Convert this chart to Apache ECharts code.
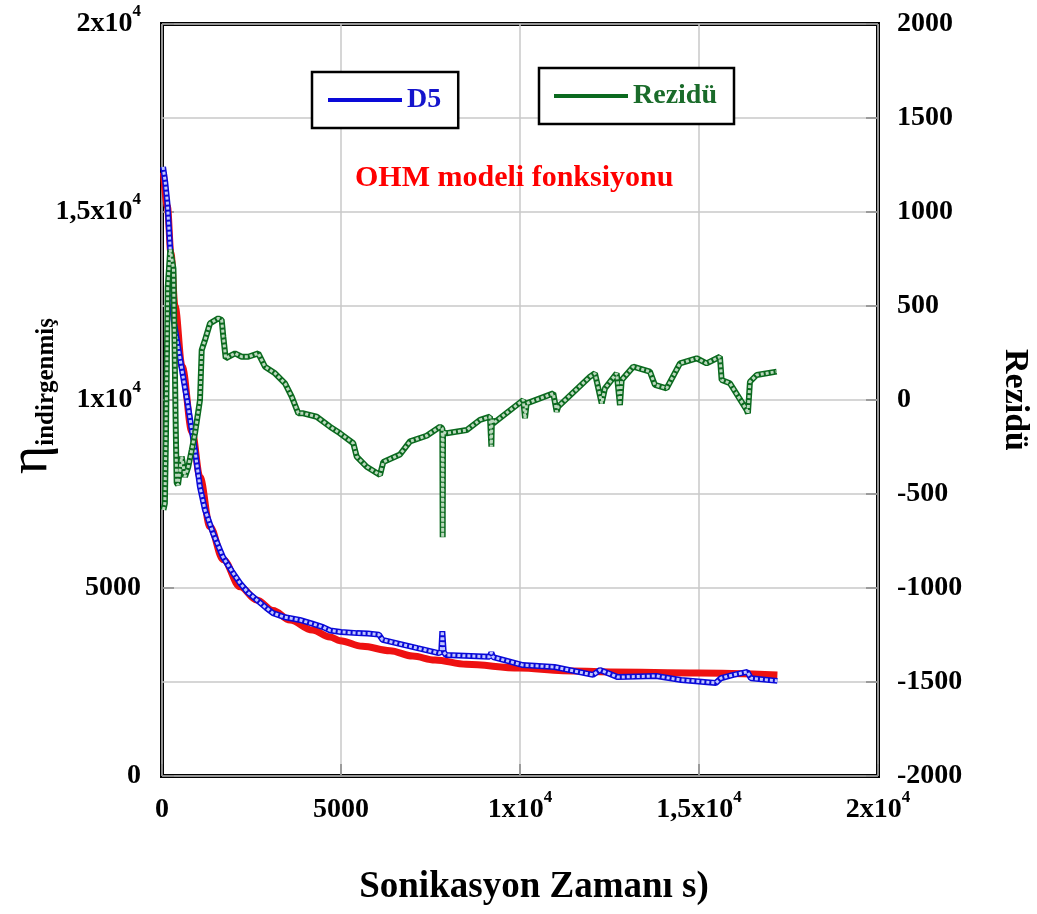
<!DOCTYPE html>
<html>
<head>
<meta charset="utf-8">
<script src="https://cdn.jsdelivr.net/npm/echarts@6/dist/echarts.min.js"></script>
<style>
  html, body { margin: 0; padding: 0; background: #fff; }
  #chart { width: 1037px; height: 914px; }
</style>
</head>
<body>
<div id="chart"></div>
<script>
// Sonication time (s) and reduced viscosity of sample D5
const d5Time = [30, 90, 150, 230, 280, 320, 450, 700, 920, 1060, 1200, 1425, 1700, 1950, 2180, 2400, 2650, 2900, 3100, 3400, 3850, 4200, 4500, 4700, 5000, 5450, 5750, 6060, 6160, 7140, 7730, 7800, 7830, 7870, 7925, 9150, 9200, 9250, 10080, 10965, 12040, 12235, 12730, 13800, 14500, 15470, 15610, 15960, 16350, 16450, 17190];
const d5Value = [16200, 15800, 15250, 14000, 12600, 12150, 11400, 10000, 8670, 7690, 7080, 6460, 5830, 5450, 5130, 4880, 4680, 4480, 4330, 4230, 4150, 4050, 3960, 3870, 3830, 3800, 3790, 3760, 3620, 3400, 3270, 3300, 3850, 3300, 3220, 3170, 3280, 3160, 2950, 2900, 2690, 2820, 2630, 2660, 2555, 2475, 2600, 2690, 2770, 2600, 2530];

// OHM model function fitted to D5
const ohmTime = [40, 150, 250, 363, 560, 840, 1061, 1340, 1713, 2180, 2644, 3100, 3575, 4200, 4690, 4970, 5600, 6368, 7000, 7625, 8500, 9985, 11200, 12530, 14980, 17190];
const ohmValue = [16050, 15150, 13900, 12500, 10900, 9150, 7950, 6630, 5750, 5035, 4682, 4400, 4150, 3880, 3697, 3600, 3450, 3333, 3190, 3086, 2970, 2873, 2800, 2766, 2740, 2687];

// Residuals of the fit (right axis)
const residTime = [40, 80, 110, 160, 230, 280, 320, 350, 380, 410, 447, 550, 642, 735, 830, 922, 1061, 1109, 1201, 1341, 1572, 1667, 1712, 1779, 2039, 2226, 2410, 2690, 2877, 3156, 3435, 3623, 3807, 3947, 4321, 4692, 4972, 5343, 5438, 5717, 6089, 6181, 6647, 6927, 7393, 7765, 7830, 7840, 7850, 7952, 8510, 8882, 9161, 9200, 9215, 9253, 10091, 10139, 10186, 10929, 11024, 11068, 11954, 12094, 12281, 12373, 12700, 12792, 12840, 13163, 13629, 13769, 14096, 14468, 14934, 15213, 15585, 15632, 15864, 16330, 16367, 16423, 16610, 17169];
const residValue = [-585, -550, -200, 600, 800, 790, 700, 300, -100, -441, -452, -301, -408, -355, -266, -177, 0, 266, 319, 408, 434, 426, 337, 222, 248, 230, 230, 248, 177, 142, 89, 18, -71, -71, -89, -142, -177, -230, -301, -355, -399, -330, -290, -220, -190, -142, -150, -730, -170, -177, -160, -106, -89, -248, -100, -124, 0, -97, -18, 35, -62, -35, 124, 142, -18, 62, 142, -27, 106, 177, 151, 80, 62, 195, 222, 195, 230, 106, 89, -53, -71, 97, 133, 151];

// Axis ticks and their labels ("^" marks an exponent)
const xTicks = [0, 5000, 10000, 15000, 20000];
const xTickLabels = ['0', '5000', '1x10^4', '1,5x10^4', '2x10^4'];
const leftTicks = [0, 5000, 10000, 15000, 20000];
const leftTickLabels = ['0', '5000', '1x10^4', '1,5x10^4', '2x10^4'];
const rightTicks = [-2000, -1500, -1000, -500, 0, 500, 1000, 1500, 2000];
const rightTickLabels = ['-2000', '-1500', '-1000', '-500', '0', '500', '1000', '1500', '2000'];

const zip = (a, b) => a.map((v, i) => [v, b[i]]);
const SERIF = '"Liberation Serif", "Times New Roman", serif';

function richLabel(ticks, labels) {
  return function (v) {
    const i = ticks.indexOf(v);
    if (i < 0) return '';
    const s = labels[i];
    const k = s.indexOf('^');
    if (k < 0) return '{m|' + s + '}';
    return '{m|' + s.slice(0, k) + '}{p|' + s.slice(k + 1) + '}';
  };
}
const labelRich = {
  m: { fontFamily: SERIF, fontWeight: 'bold', fontSize: 28, color: '#000', padding: [7, 0, 7, 0], verticalAlign: 'middle' },
  p: { fontFamily: SERIF, fontWeight: 'bold', fontSize: 17, color: '#000', verticalAlign: 'top' }
};

const BLUE = '#0a0ad8', RED = '#ee1111', GREEN = '#0b6a1f';
const LEGEND_LINE = 'path://M0,0 L74,0 L74,4 L0,4 Z';

const chart = echarts.init(document.getElementById('chart'), null, { renderer: 'canvas' });
chart.setOption({
  animation: false,
  backgroundColor: '#fff',
  grid: { left: 162, right: 159, top: 24, bottom: 138, show: true, borderColor: '#000', borderWidth: 4, backgroundColor: 'transparent' },
  legend: [
    {
      data: [{ name: 'D5', icon: LEGEND_LINE, textStyle: { color: '#1414cc' } }],
      left: 312, top: 72, orient: 'horizontal',
      itemWidth: 74, itemHeight: 4,
      padding: [14, 17, 14, 16],
      borderColor: '#000', borderWidth: 2.5, backgroundColor: '#fff',
      textStyle: { fontFamily: SERIF, fontWeight: 'bold', fontSize: 28 },
      selectedMode: false
    },
    {
      data: [{ name: 'Rezidü', icon: LEGEND_LINE, textStyle: { color: '#1a6b2a' } }],
      left: 539, top: 68, orient: 'horizontal',
      itemWidth: 74, itemHeight: 4,
      padding: [14, 17, 14, 15],
      borderColor: '#000', borderWidth: 2.5, backgroundColor: '#fff',
      textStyle: { fontFamily: SERIF, fontWeight: 'bold', fontSize: 28 },
      selectedMode: false
    }
  ],
  xAxis: {
    type: 'value', min: 0, max: 20000, interval: 5000,
    axisLine: { show: false },
    axisTick: { show: true, inside: true, length: 12, lineStyle: { color: '#888', width: 1.5 } },
    splitLine: { show: true, lineStyle: { color: '#c8c8c8', width: 1.5 } },
    axisLabel: { margin: 13, formatter: richLabel(xTicks, xTickLabels), rich: labelRich }
  },
  yAxis: [
    {
      type: 'value', min: 0, max: 20000, interval: 5000, position: 'left',
      axisLine: { show: false },
      axisTick: { show: true, inside: true, length: 12, lineStyle: { color: '#888', width: 1.5 } },
      splitLine: { show: false },
      axisLabel: { margin: 21, formatter: richLabel(leftTicks, leftTickLabels), rich: labelRich }
    },
    {
      type: 'value', min: -2000, max: 2000, interval: 500, position: 'right',
      axisLine: { show: false },
      axisTick: { show: true, inside: true, length: 12, lineStyle: { color: '#888', width: 1.5 } },
      splitLine: { show: true, lineStyle: { color: '#c8c8c8', width: 1.5 } },
      axisLabel: { margin: 19, formatter: richLabel(rightTicks, rightTickLabels), rich: labelRich }
    }
  ],
  series: [
    {
      name: 'OHM modeli fonksiyonu', type: 'line', yAxisIndex: 0,
      data: zip(ohmTime, ohmValue), smooth: 0.35, smoothMonotone: 'x',
      symbol: 'none', lineStyle: { color: RED, width: 7 }, itemStyle: { color: RED }, z: 2
    },
    {
      name: 'D5', type: 'line', yAxisIndex: 0,
      data: zip(d5Time, d5Value),
      symbol: 'none', lineStyle: { color: BLUE, width: 6 }, itemStyle: { color: BLUE }, z: 3
    },
    {
      name: 'D5 doku', type: 'line', yAxisIndex: 0, silent: true,
      data: zip(d5Time, d5Value),
      symbol: 'none', lineStyle: { color: '#c0c6ff', width: 3, type: [3, 2] }, z: 4
    },
    {
      name: 'Rezidü', type: 'line', yAxisIndex: 1,
      data: zip(residTime, residValue),
      symbol: 'none', lineStyle: { color: GREEN, width: 6 }, itemStyle: { color: GREEN }, z: 5
    },
    {
      name: 'Rezidü doku', type: 'line', yAxisIndex: 1, silent: true,
      data: zip(residTime, residValue),
      symbol: 'none', lineStyle: { color: '#bcd9be', width: 3, type: [3, 2] }, z: 6
    }
  ],
  graphic: [
    {
      type: 'text', x: 355, y: 178, z: 10,
      style: { text: 'OHM modeli fonksiyonu', fill: '#ff0000', font: 'bold 30px ' + SERIF, textAlign: 'left', textVerticalAlign: 'middle' }
    },
    {
      type: 'text', x: 534, y: 887, z: 10,
      style: { text: 'Sonikasyon Zamanı s)', fill: '#000', font: 'bold 37px ' + SERIF, textAlign: 'center', textVerticalAlign: 'middle' }
    },
    {
      type: 'text', x: 1015, y: 400, rotation: -Math.PI / 2, z: 10,
      style: { text: 'Rezidü', fill: '#000', font: 'bold 34px ' + SERIF, textAlign: 'center', textVerticalAlign: 'middle' }
    },
    {
      type: 'text', x: 32, y: 396, rotation: Math.PI / 2, z: 10,
      style: {
        text: '{e|η}{s|indirgenmiş}',
        textAlign: 'center', textVerticalAlign: 'middle',
        rich: {
          e: { fontFamily: SERIF, fontSize: 54, fill: '#000', verticalAlign: 'bottom' },
          s: { fontFamily: SERIF, fontWeight: 'bold', fontSize: 25, fill: '#000', verticalAlign: 'bottom' }
        }
      }
    }
  ]
});
</script>
</body>
</html>
